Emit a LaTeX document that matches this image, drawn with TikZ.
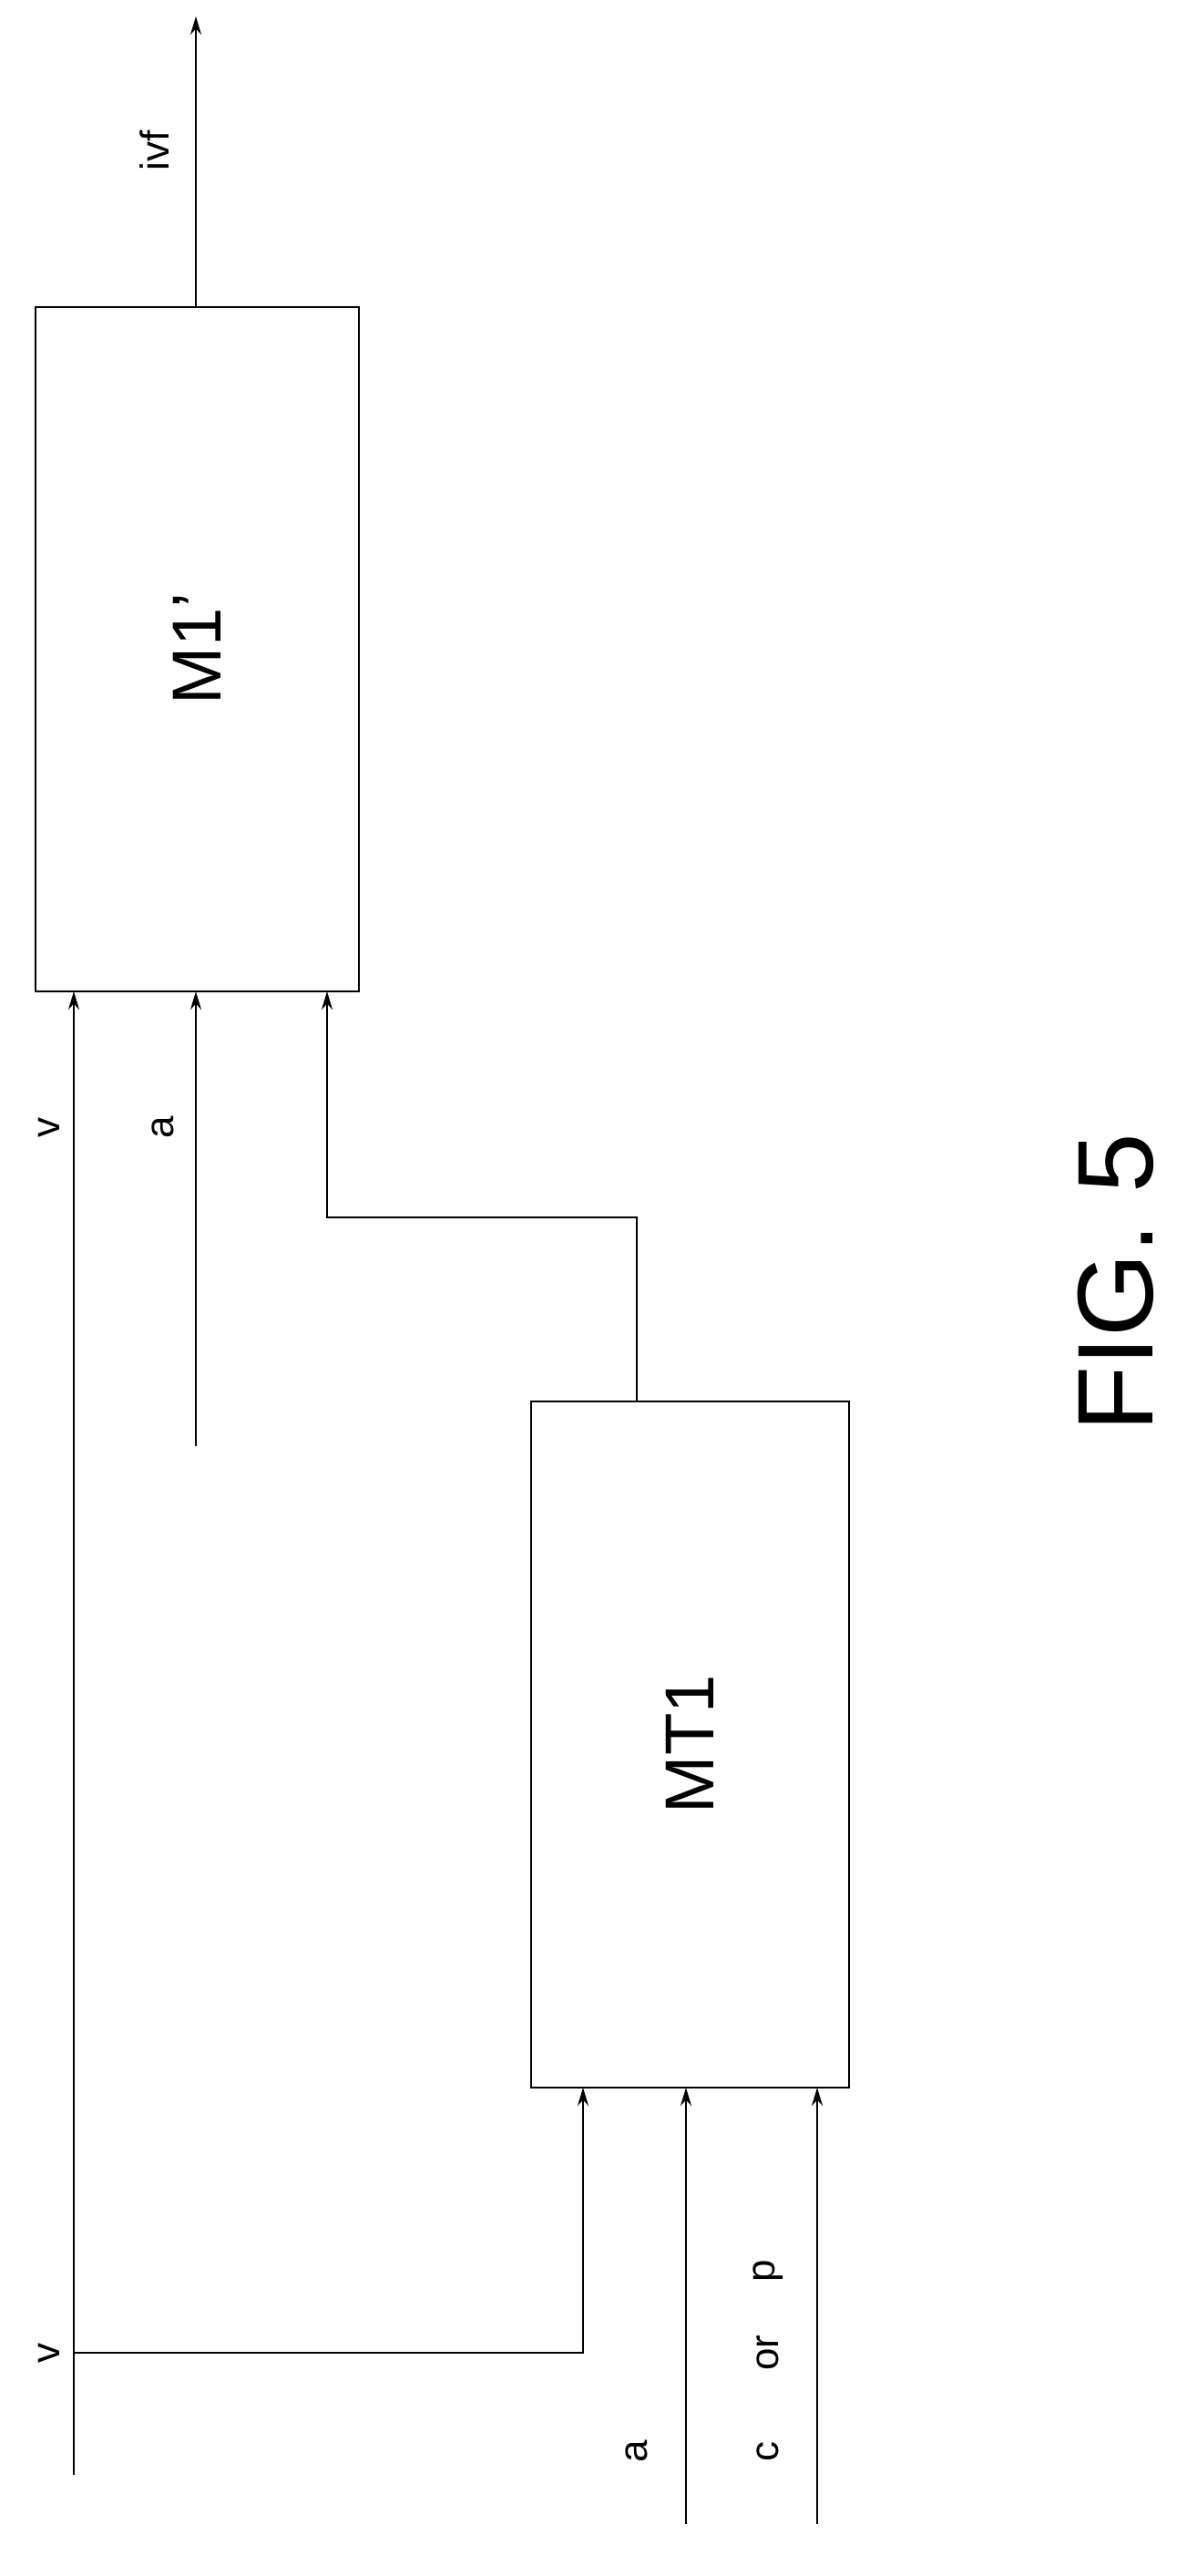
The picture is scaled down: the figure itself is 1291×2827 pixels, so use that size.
\documentclass[tikz,border=0pt]{standalone}
\usepackage{fontspec}
\setmainfont{Liberation Sans}
\usetikzlibrary{arrows.meta}
\begin{document}
\begin{tikzpicture}[x=1pt,y=-1pt,line width=2pt,
  arr/.style={-{Stealth[length=20pt,width=12pt]}},
  lbl/.style={rotate=90,font=\fontsize{44}{50}\selectfont},
  box/.style={draw,line width=2pt}]
\useasboundingbox (0,0) rectangle (1291,2827);
\draw[box] (39,337) rectangle (394,1088);
\node[rotate=90,font=\fontsize{76}{80}\selectfont] (m1) at (216,712) {M1’};
\draw[box] (583,1538) rectangle (932,2291);
\node[rotate=90,font=\fontsize{76}{80}\selectfont] (mt1) at (757,1914) {MT1};
\coordinate (o1) at (215,337); \coordinate (o2) at (215,18);
\draw[arr] (o1) -- (o2);
\node[lbl] (ivf) at (170,165) {ivf};
\coordinate (v0) at (81,2716); \coordinate (v1) at (81,1088);
\draw[arr] (v0) -- (v1);
\node[lbl] (lv1) at (54,1237) {v};
\node[lbl] (lv2) at (54,2582) {v};
\coordinate (a0) at (215,1587); \coordinate (a1) at (215,1088);
\draw[arr] (a0) -- (a1);
\node[lbl] (la1) at (179,1237) {a};
\coordinate (t0) at (699,1538); \coordinate (t1) at (359,1088);
\draw[arr] (t0) -- (699,1336) -- (359,1336) -- (t1);
\coordinate (b0) at (81,2582); \coordinate (b1) at (640,2291);
\draw[arr] (b0) -- (640,2582) -- (b1);
\coordinate (c0) at (753,2770); \coordinate (c1) at (753,2291);
\draw[arr] (c0) -- (c1);
\coordinate (d0) at (897,2770); \coordinate (d1) at (897,2291);
\draw[arr] (d0) -- (d1);
\node[lbl] (la2) at (699,2690) {a};
\node[lbl] (lc) at (843,2690) {c};
\node[lbl] (lor) at (843,2582) {or};
\node[lbl] (lp) at (843,2492) {p};
\node[rotate=90,font=\fontsize{118}{126}\selectfont] (fig) at (1225,1408) {FIG. 5};
\end{tikzpicture}
\end{document}
